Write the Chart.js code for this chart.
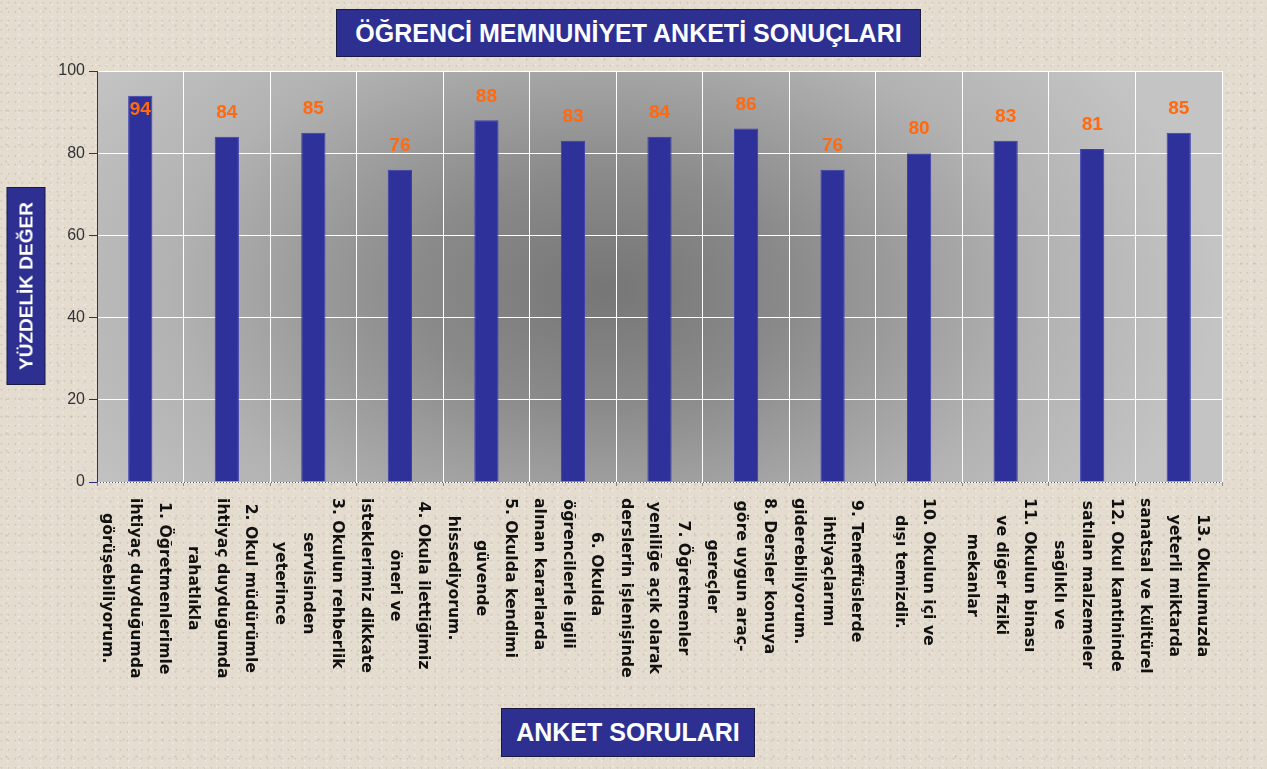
<!DOCTYPE html>
<html>
<head>
<meta charset="utf-8">
<script src="https://cdn.jsdelivr.net/npm/chart.js@4/dist/chart.umd.min.js"></script>
<style>
  html, body { margin: 0; padding: 0; }
  body {
    width: 1267px; height: 769px; overflow: hidden; position: relative;
    background-color: #e4dccf;
    background-image:
      radial-gradient(circle at 20% 30%, rgba(150,135,115,0.25) 0.6px, transparent 1.2px),
      radial-gradient(circle at 70% 80%, rgba(255,255,255,0.35) 0.6px, transparent 1.2px),
      radial-gradient(circle at 50% 50%, rgba(140,125,105,0.18) 0.8px, transparent 1.6px);
    background-size: 7px 9px, 11px 6px, 13px 17px;
  }
  #c { position: absolute; left: 0; top: 0; }
  .box {
    position: absolute; background: #2d3091; color: #fff;
    font-family: "Liberation Sans", Arial, sans-serif; font-weight: bold;
    border: 1.5px solid #1a1a40; box-sizing: border-box;
    display: flex; align-items: center; justify-content: center; white-space: nowrap;
  }
  #title { left: 336px; top: 9px; width: 585px; height: 48px; font-size: 25px; }
  #xtitle { left: 501px; top: 708px; width: 254px; height: 49px; font-size: 25px; }
  #ytitle { left: 26px; top: 286px; width: 198px; height: 39px; font-size: 19px;
            transform: translate(-50%, -50%) rotate(-90deg); }
</style>
</head>
<body>
<canvas id="c" width="1267" height="769"></canvas>
<div class="box" id="title">ÖĞRENCİ MEMNUNİYET ANKETİ SONUÇLARI</div>
<div class="box" id="ytitle">YÜZDELİK DEĞER</div>
<div class="box" id="xtitle">ANKET SORULARI</div>
<script>
const categories = [
  ['1. Öğretmenlerimle', 'ihtiyaç duyduğumda', 'görüşebiliyorum.'],
  ['2. Okul müdürümle', 'ihtiyaç duyduğumda', 'rahatlıkla'],
  ['3. Okulun rehberlik', 'servisinden', 'yeterince'],
  ['4. Okula ilettiğimiz', 'öneri ve', 'isteklerimiz dikkate'],
  ['5. Okulda kendimi', 'güvende', 'hissediyorum.'],
  ['6. Okulda', 'öğrencilerle ilgili', 'alınan kararlarda'],
  ['7. Öğretmenler', 'yeniliğe açık olarak', 'derslerin işlenişinde'],
  ['8. Dersler konuya', 'göre uygun araç-', 'gereçler'],
  ['9. Teneffüslerde', 'ihtiyaçlarımı', 'giderebiliyorum.'],
  ['10. Okulun içi ve', 'dışı temizdir.'],
  ['11. Okulun binası', 've diğer fiziki', 'mekanlar'],
  ['12. Okul kantininde', 'satılan malzemeler', 'sağlıklı ve'],
  ['13. Okulumuzda', 'yeterli miktarda', 'sanatsal ve kültürel']
];
const values = [94, 84, 85, 76, 88, 83, 84, 86, 76, 80, 83, 81, 85];
const yMin = 0, yMax = 100, yStep = 20;

const plotBg = {
  id: 'plotBg',
  beforeDraw(chart) {
    const { ctx, chartArea: a } = chart;
    const w = a.right - a.left, h = a.bottom - a.top;
    const cx = a.left + 0.45 * w, cy = a.top + 0.53 * h;
    const sy = 0.62;
    ctx.save();
    ctx.beginPath();
    ctx.rect(a.left, a.top, w, h);
    ctx.clip();
    ctx.translate(cx, cy);
    ctx.scale(1, sy);
    const g = ctx.createRadialGradient(0, 0, 0, 0, 0, w * 0.55);
    g.addColorStop(0, '#767676');
    g.addColorStop(0.3, '#8a8a8a');
    g.addColorStop(0.7, '#b2b2b2');
    g.addColorStop(1, '#c4c4c4');
    ctx.fillStyle = g;
    ctx.fillRect(a.left - cx, (a.top - cy) / sy, w, h / sy);
    ctx.restore();
  }
};

const xAxisLine = {
  id: 'xAxisLine',
  afterDatasetsDraw(chart) {
    const { ctx, chartArea: a } = chart;
    ctx.save();
    ctx.strokeStyle = '#555';
    ctx.lineWidth = 1;
    ctx.setLineDash([1, 2]);
    ctx.beginPath();
    ctx.moveTo(a.left, a.bottom + 0.5);
    ctx.lineTo(a.right, a.bottom + 0.5);
    ctx.stroke();
    ctx.restore();
  }
};

const xLabels = {
  id: 'xLabels',
  afterDraw(chart) {
    const { ctx } = chart;
    const xs = chart.scales.x;
    const lh = 28.5;
    ctx.save();
    ctx.font = 'bold 15.7px "DejaVu Sans", sans-serif';
    ctx.fillStyle = '#111';
    ctx.textBaseline = 'middle';
    ctx.textAlign = 'center';
    categories.forEach((lines, i) => {
      const x = xs.getPixelForValue(i) - 5;
      const y0 = xs.top + 16;
      let W = 0;
      lines.forEach(l => { W = Math.max(W, ctx.measureText(l).width); });
      ctx.save();
      ctx.translate(x, y0);
      ctx.rotate(Math.PI / 2);
      const n = lines.length;
      lines.forEach((l, k) => {
        ctx.fillText(l, W / 2, (k - (n - 1) / 2) * lh);
      });
      ctx.restore();
    });
    ctx.restore();
  }
};

const dataLabels = {
  id: 'dataLabels',
  afterDatasetsDraw(chart) {
    const { ctx, chartArea: a } = chart;
    const meta = chart.getDatasetMeta(0);
    ctx.save();
    ctx.font = 'bold 19px "Liberation Sans", Arial, sans-serif';
    ctx.fillStyle = '#ff6a10';
    ctx.textAlign = 'center';
    ctx.textBaseline = 'middle';
    meta.data.forEach((bar, i) => {
      let y = bar.y - 24;
      if (y < a.top + 25) y = bar.y + 14;
      ctx.fillText(String(values[i]), bar.x, y);
    });
    ctx.restore();
  }
};

new Chart(document.getElementById('c'), {
  type: 'bar',
  data: {
    labels: categories,
    datasets: [{
      data: values,
      backgroundColor: '#2e3199',
      borderColor: '#3d3fb0',
      borderWidth: 1,
      barPercentage: 0.28,
      categoryPercentage: 1.0
    }]
  },
  options: {
    responsive: false,
    animation: false,
    devicePixelRatio: 1,
    layout: { padding: { left: 0, top: 71, right: 45, bottom: 0 } },
    plugins: { legend: { display: false }, title: { display: false }, tooltip: { enabled: false } },
    scales: {
      x: {
        offset: true,
        grid: {
          offset: true, color: '#ffffff', lineWidth: 1,
          drawTicks: true, tickLength: 4, tickColor: '#888'
        },
        border: { display: false },
        ticks: { display: false },
        afterFit(s) { s.height = 769 - 482; }
      },
      y: {
        min: yMin, max: yMax,
        ticks: {
          stepSize: yStep, color: '#333', padding: 4,
          font: { family: '"Liberation Sans", Arial, sans-serif', size: 16 }
        },
        grid: { color: '#ffffff', lineWidth: 1, drawTicks: true, tickLength: 8, tickColor: '#2d2d80' },
        border: { color: '#2d2d80', width: 1 },
        afterFit(s) { s.width = 97; }
      }
    }
  },
  plugins: [plotBg, xAxisLine, dataLabels, xLabels]
});
</script>
</body>
</html>
